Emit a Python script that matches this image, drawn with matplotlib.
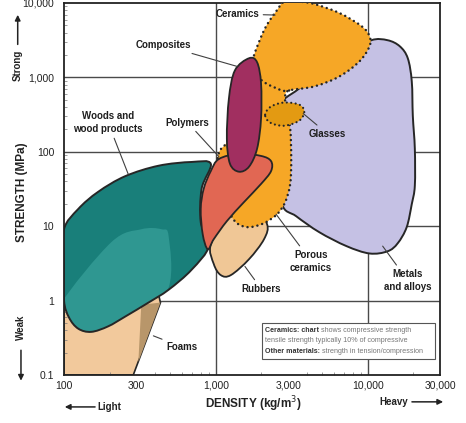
import numpy as np
import matplotlib
matplotlib.use('Agg')
import matplotlib.pyplot as plt
from matplotlib.path import Path
from matplotlib.patches import PathPatch, Polygon, Rectangle, FancyArrowPatch

plt.rcParams['font.family'] = ['Liberation Sans', 'DejaVu Sans']

# material family outlines: density (kg/m3), strength (MPa)
woods_density = [100, 124, 168, 253, 420, 693, 927, 807, 796, 899, 693, 489, 360, 253, 195, 151, 124, 108, 100, 100]
woods_strength = [9.1, 17, 29, 47, 65, 73, 69, 32, 11.3, 5.4, 2.6, 1.4, 0.94, 0.61, 0.45, 0.38, 0.42, 0.59, 1.0, 3.1]

grain_density = [95, 205, 323, 439, 489, 489, 300, 150, 90]
grain_strength = [0.9, 6.1, 9.1, 9.1, 7.3, 1.5, 0.4, 0.25, 0.4]

foam_density = [100, 420, 432, 286, 100]
foam_strength = [1.2, 1.2, 0.94, 0.1, 0.1]

dense_foam_density = [323, 432, 309]
dense_foam_strength = [0.88, 0.94, 0.15]

polymer_density = [1048, 1420, 1987, 2312, 2312, 1987, 1531, 1183, 970, 885, 820, 796, 833, 927]
polymer_strength = [80, 94, 88, 75, 55, 37, 21, 11.7, 6.7, 4.9, 7.8, 17, 32, 55]

rubber_density = [927, 1220, 1786, 2178, 2080, 1655, 1256, 1079, 970]
rubber_strength = [5.7, 14.5, 17, 10.6, 6.7, 3.6, 2.2, 2.2, 3.1]

composite_density = [1655, 1871, 1987, 1987, 1871, 1655, 1420, 1240, 1183, 1220, 1336]
composite_strength = [1810, 1600, 830, 279, 110, 63, 54, 69, 150, 520, 1240]

ceramic_density = [1786, 2113, 2535, 2820, 3546, 4460, 6530, 9120, 10300, 10300, 8850, 6530,
                   4460, 3044, 2864, 2910, 3093, 3140, 3093, 2864, 2535, 2080, 1655, 1377,
                   1220, 1111, 1031, 1062, 1220, 1531, 1706]
ceramic_strength = [1980, 4590, 8040, 10300, 10400, 9690, 7330, 4890, 3580, 2620, 1645, 1031,
                    756, 667, 554, 381, 205, 80, 37, 21, 14.5, 11, 9.7, 11,
                    16, 32, 69, 103, 150, 520, 1130]

ceramic_split_density = [3044, 2735, 2145, 1871]
ceramic_split_strength = [667, 667, 830, 1031]

glass_density = [2113, 2312, 2820, 3546, 3830, 3546, 2820, 2280]
glass_strength = [316, 406, 459, 431, 347, 262, 224, 247]

metal_density = [10600, 13550, 16300, 18400, 19550, 19860, 20480, 20480, 19550, 18100, 15800,
                 13550, 10300, 7260, 4810, 3390, 2735, 2614, 2614, 3546, 7600]
metal_strength = [3160, 3160, 2620, 1810, 883, 306, 110, 35, 19.8, 9.7, 5.9,
                  4.6, 4.3, 5.4, 8.3, 13.6, 19.8, 80, 381, 710, 2110]

x_ticks = [100, 300, 1000, 3000, 10000, 30000]
x_labels = ['100', '300', '1,000', '3,000', '10,000', '30,000']
y_ticks = [0.1, 1, 10, 100, 1000, 10000]
y_labels = ['0.1', '1', '10', '100', '1,000', '10,000']

EDGE = '#262626'
DOTS = (0, (0.01, 2.0))


def blob(density, strength):
    # closed smooth outline (Catmull-Rom in log space, as cubic Beziers)
    pts = np.log10(np.column_stack([density, strength]))
    n = len(pts)
    verts = [pts[0]]
    codes = [Path.MOVETO]
    for i in range(n):
        p0, p1, p2, p3 = pts[i - 1], pts[i], pts[(i + 1) % n], pts[(i + 2) % n]
        verts += [p1 + (p2 - p0) / 6, p2 - (p3 - p1) / 6, p2]
        codes += [Path.CURVE4] * 3
    return Path(10 ** np.array(verts), codes)


def open_curve(density, strength):
    pts = np.log10(np.column_stack([density, strength]))
    n = len(pts)
    verts = [pts[0]]
    codes = [Path.MOVETO]
    for i in range(n - 1):
        p0 = pts[max(i - 1, 0)]
        p3 = pts[min(i + 2, n - 1)]
        p1, p2 = pts[i], pts[i + 1]
        verts += [p1 + (p2 - p0) / 6, p2 - (p3 - p1) / 6, p2]
        codes += [Path.CURVE4] * 3
    return Path(10 ** np.array(verts), codes)


fig = plt.figure(figsize=(4.66, 4.23), dpi=100)
ax = fig.add_axes([64 / 466, 48 / 423, 376 / 466, 372 / 423])
ax.set_xscale('log')
ax.set_yscale('log')
ax.set_xlim(100, 30000)
ax.set_ylim(0.1, 10000)

for v in [1, 10, 100, 1000]:
    ax.axhline(v, color='#4a4a4a', lw=1.0, zorder=0.5)
for v in [1000, 10000]:
    ax.axvline(v, color='#4a4a4a', lw=1.0, zorder=0.5)

# foams
ax.add_patch(Polygon(np.column_stack([foam_density, foam_strength]), closed=True,
                     fc='#f2c99c', ec=EDGE, lw=1.2, zorder=1))
ax.add_patch(Polygon(np.column_stack([dense_foam_density, dense_foam_strength]), closed=True,
                     fc='#b8966a', ec='none', zorder=1.1))

# woods
woods = PathPatch(blob(woods_density, woods_strength), fc='#197f7a', ec='none', zorder=2)
ax.add_patch(woods)
grain = PathPatch(blob(grain_density, grain_strength), fc='#2f9791', ec='none', zorder=2.1)
ax.add_patch(grain)
grain.set_clip_path(woods)
ax.add_patch(PathPatch(blob(woods_density, woods_strength), fc='none', ec=EDGE, lw=1.4, zorder=2.2))

# metals
ax.add_patch(PathPatch(blob(metal_density, metal_strength), fc='#c5c1e4', ec=EDGE, lw=1.4, zorder=3))

# rubbers
ax.add_patch(PathPatch(blob(rubber_density, rubber_strength), fc='#f0c796', ec=EDGE, lw=1.3, zorder=3.5))

# ceramics
ax.add_patch(PathPatch(blob(ceramic_density, ceramic_strength), fc='#f6a726', ec='none', zorder=4))
ax.add_patch(PathPatch(blob(ceramic_density, ceramic_strength), fc='none', ec=EDGE, lw=1.8,
                       linestyle=DOTS, capstyle='round', zorder=4.1))
ax.add_patch(PathPatch(open_curve(ceramic_split_density, ceramic_split_strength), fc='none', ec=EDGE,
                       lw=1.8, linestyle=DOTS, capstyle='round', zorder=4.1))

# polymers
ax.add_patch(PathPatch(blob(polymer_density, polymer_strength), fc='#e16753', ec=EDGE, lw=1.3, zorder=5))

# composites
ax.add_patch(PathPatch(blob(composite_density, composite_strength), fc='#a12f60', ec=EDGE, lw=1.3, zorder=6))

# glasses
ax.add_patch(PathPatch(blob(glass_density, glass_strength), fc='#e39a12', ec='none', zorder=7))
ax.add_patch(PathPatch(blob(glass_density, glass_strength), fc='none', ec=EDGE, lw=1.6,
                       linestyle=DOTS, capstyle='round', zorder=7.1))

lead = dict(arrowstyle='-', color='#404040', lw=0.8, shrinkA=1, shrinkB=0)
label_kw = dict(fontsize=7, fontweight='bold', color='#1e1e1e', ha='center', va='center',
                zorder=10, arrowprops=lead, linespacing=1.4)
ax.annotate('Ceramics', xy=(2460, 6890), xytext=(1928, 7100), **{**label_kw, 'ha': 'right'})
ax.annotate('Composites', xy=(1377, 1408), xytext=(453, 2700), **label_kw)
ax.annotate('Woods and\nwood products', xy=(265, 50), xytext=(195, 247), **label_kw)
ax.annotate('Polymers', xy=(1048, 86), xytext=(653, 247), **label_kw)
ax.annotate('Glasses', xy=(3766, 327), xytext=(5430, 175), **label_kw)
ax.annotate('Porous\nceramics', xy=(2495, 14.5), xytext=(4250, 3.37), **label_kw)
ax.annotate('Rubbers', xy=(1556, 2.88), xytext=(1987, 1.45), **label_kw)
ax.annotate('Metals\nand alloys', xy=(12570, 5.4), xytext=(18400, 1.86), **label_kw)
ax.annotate('Foams', xy=(388, 0.336), xytext=(596, 0.239), **label_kw)

# note box
ax.add_patch(Rectangle((0.527, 0.043), 0.46, 0.097, transform=ax.transAxes, fc='white',
                       ec='#555555', lw=0.8, zorder=9))
note_kw = dict(transform=ax.transAxes, fontsize=5.1, va='center', ha='left', zorder=10)
t1 = ax.text(0.535, 0.119, 'Ceramics: chart', fontweight='bold', color='#333333', **note_kw)
ax.annotate(' shows compressive strength', xy=(1, 0.5), xycoords=t1, va='center', ha='left',
            fontsize=5.1, color='#777777', zorder=10)
ax.text(0.535, 0.092, 'tensile strength typically 10% of compressive', color='#777777', **note_kw)
t3 = ax.text(0.535, 0.062, 'Other materials:', fontweight='bold', color='#333333', **note_kw)
ax.annotate(' strength in tension/compression', xy=(1, 0.5), xycoords=t3, va='center', ha='left',
            fontsize=5.1, color='#777777', zorder=10)

ax.set_xticks(x_ticks)
ax.set_xticklabels(x_labels)
ax.set_yticks(y_ticks)
ax.set_yticklabels(y_labels)
ax.tick_params(which='major', length=0, labelsize=7.5, labelcolor='#222222')
ax.tick_params(axis='x', pad=4)
ax.tick_params(axis='y', pad=7)
ax.tick_params(which='minor', direction='in', length=2, width=0.5, color='#777777')
for s in ax.spines.values():
    s.set_linewidth(1.3)
    s.set_color('#222222')

# axis titles and direction arrows
fig.text(0.047, 0.546, 'STRENGTH (MPa)', rotation=90, ha='center', va='center',
         fontsize=8.5, fontweight='bold', color='#222222')
fig.text(0.543, 0.045, 'DENSITY (kg/m$^3$)', ha='center', va='center',
         fontsize=8.5, fontweight='bold', color='#222222')
arrow = dict(arrowstyle='-|>', color='#222222', lw=1.1, mutation_scale=8, shrinkA=0, shrinkB=0)
fig.text(0.038, 0.846, 'Strong', rotation=90, ha='center', va='center', fontsize=7,
         fontweight='bold', color='#222222')
fig.add_artist(FancyArrowPatch((0.038, 0.895), (0.038, 0.965), transform=fig.transFigure, **arrow))
fig.text(0.045, 0.227, 'Weak', rotation=90, ha='center', va='center', fontsize=7,
         fontweight='bold', color='#222222')
fig.add_artist(FancyArrowPatch((0.045, 0.172), (0.045, 0.100), transform=fig.transFigure, **arrow))
fig.text(0.208, 0.038, 'Light', ha='left', va='center', fontsize=7, fontweight='bold', color='#222222')
fig.add_artist(FancyArrowPatch((0.204, 0.038), (0.139, 0.038), transform=fig.transFigure, **arrow))
fig.text(0.876, 0.05, 'Heavy', ha='right', va='center', fontsize=7, fontweight='bold', color='#222222')
fig.add_artist(FancyArrowPatch((0.884, 0.05), (0.951, 0.05), transform=fig.transFigure, **arrow))

fig.savefig('out.png', dpi=100)
